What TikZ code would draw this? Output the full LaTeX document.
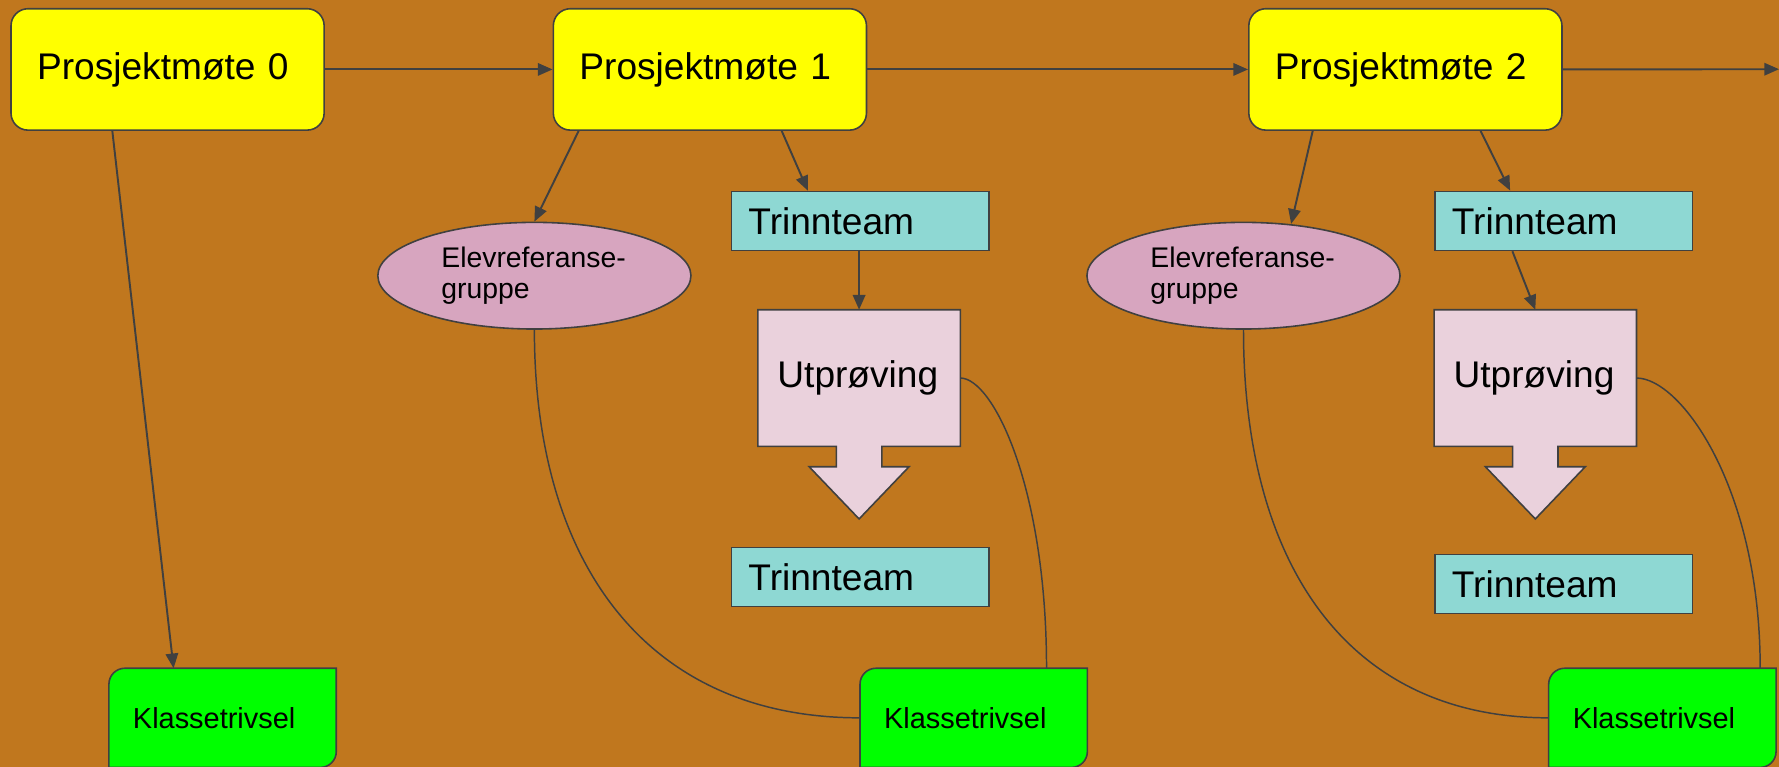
\documentclass[tikz,border=0pt]{standalone}
\usepackage{fontspec}
\setmainfont{Liberation Sans}
\usetikzlibrary{arrows.meta,calc,shapes.geometric}
\definecolor{bgc}{RGB}{192,119,30}
\definecolor{edgec}{RGB}{64,64,64}
\definecolor{yel}{RGB}{255,255,0}
\definecolor{grn}{RGB}{0,255,0}
\definecolor{tealc}{RGB}{142,216,211}
\definecolor{pinkc}{RGB}{215,165,191}
\definecolor{lpink}{RGB}{234,209,220}
\pgfdeclarelayer{bgzero}
\pgfdeclarelayer{bgone}
\pgfsetlayers{bgzero,bgone,main}
\begin{document}
\begin{tikzpicture}[x=1pt,y=-1pt,
  bigfont/.style={font=\fontsize{32.7}{39}\selectfont},
  meet/.style={draw=edgec, fill=yel, rounded corners=15pt, line width=1.4pt,
    minimum width=276pt, minimum height=107pt, anchor=north west,
    inner xsep=23pt, text width=230pt, align=left, bigfont},
  team/.style={draw=edgec, fill=tealc, line width=1.4pt, minimum height=52pt,
    anchor=north west, inner xsep=15pt, text width=197pt, align=left, bigfont},
  testnode/.style={minimum height=120pt, anchor=north west, inner xsep=17pt,
    text width=144pt, align=left, bigfont},
  testshape/.style={draw=edgec, fill=lpink, line width=1.4pt},
  ell/.style={ellipse, draw=edgec, fill=pinkc, line width=1.4pt,
    minimum width=276pt, minimum height=94pt, inner sep=0pt, text width=164pt,
    align=left, font=\fontsize{25}{28}\selectfont},
  klasse/.style={anchor=north west, minimum height=87pt, inner xsep=21pt,
    text width=158pt, align=left, font=\fontsize{25.5}{30}\selectfont},
  greenshape/.style={draw=edgec, fill=grn, line width=1.4pt},
  conn/.style={draw=edgec, line width=1.7pt, -{Triangle[length=13pt,width=11pt]}},
  curve/.style={draw=edgec, line width=1.3pt}
]
\useasboundingbox (0,0) rectangle (1568,676);
\begin{pgfonlayer}{bgzero}
\fill[bgc] (0,0) rectangle (1568,676);
\end{pgfonlayer}

\node[meet] (P0) at (9,7) {Prosjektmøte 0};
\node[meet] (P1) at (487,7) {Prosjektmøte 1};
\node[meet] (P2) at (1100,7) {Prosjektmøte 2};

\node[ell] (E1) at (471,243) {Elevreferanse-\\gruppe};
\node[ell] (E2) at (1096,243) {Elevreferanse-\\gruppe};

\node[team] (T1a) at (644,168) {Trinnteam};
\node[team] (T2a) at (1264,168) {Trinnteam};
\node[team] (T1b) at (644,482) {Trinnteam};
\node[team] (T2b) at (1264,488) {Trinnteam};

\node[testnode, minimum width=178pt] (U1) at (668,273) {Utprøving};
\node[testnode, minimum width=177pt] (U2) at (1264,273) {Utprøving};

\node[klasse, minimum width=200pt] (K0) at (96,589) {Klassetrivsel};
\node[klasse, minimum width=200pt] (K1) at (758,589) {Klassetrivsel};
\node[klasse, minimum width=200pt] (K2) at (1365,589) {Klassetrivsel};

\begin{pgfonlayer}{bgone}
\foreach \u in {U1,U2}{
  \path[testshape] (\u.north west) -- (\u.north east) -- (\u.south east)
    -- ($(\u.south)+(20,0)$) -- ++(0,18) -- ++(24,0)
    -- ($(\u.south)+(0,64)$) -- ($(\u.south)+(-44,18)$) -- ++(24,0)
    -- ($(\u.south)+(-20,0)$) -- (\u.south west) -- cycle;
}
\foreach \k in {K0,K1,K2}{
  \path[greenshape] (\k.south west) -- ($(\k.north west)+(0,14)$)
    arc[start angle=180,end angle=270,radius=14]
    -- (\k.north east) -- ($(\k.south east)+(0,-14)$)
    arc[start angle=0,end angle=90,radius=14] -- cycle;
}
\end{pgfonlayer}

\coordinate (edgeR) at (1568,61);
\draw[conn] (P0.east) -- (P1.west);
\draw[conn] (P1.east) -- (P2.west);
\draw[conn] (P2.east) -- (edgeR);
\draw[conn] ($(P0.south west)+(90,0)$) -- ($(K0.north west)+(57,0)$);
\draw[conn] ($(P1.south west)+(23,0)$) -- (E1.north);
\draw[conn] ($(P1.south west)+(202,0)$) -- ($(T1a.north west)+(68,0)$);
\draw[conn] ($(P2.south west)+(57,0)$) -- ($(E2.north)+(42,2)$);
\draw[conn] ($(P2.south west)+(205,0)$) -- ($(T2a.north west)+(67,0)$);
\draw[conn] (T1a.south -| U1.north) -- (U1.north);
\draw[conn] ($(T2a.south west)+(69,0)$) -- (U2.north);

\draw[curve] (E1.south) .. controls +(0,210) and +(-185,0) .. (K1.west);
\draw[curve] (U1.east) .. controls +(29,0) and +(0,-159) .. ($(K1.north east)+(-36,0)$);
\draw[curve] (E2.south) .. controls +(0,210) and +(-175,0) .. (K2.west);
\draw[curve] (U2.east) .. controls +(39,0) and +(0,-159) .. ($(K2.north east)+(-14,0)$);
\end{tikzpicture}
\end{document}
